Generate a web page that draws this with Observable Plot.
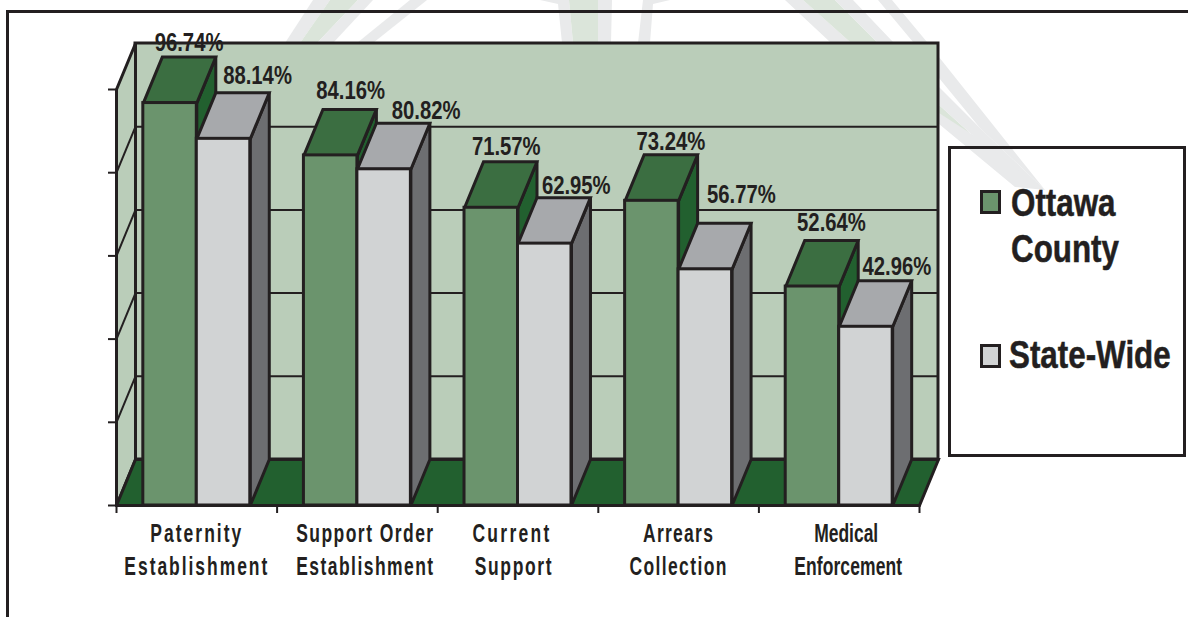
<!DOCTYPE html>
<html>
<head>
<meta charset="utf-8">
<style>
  html, body { margin: 0; padding: 0; background: #fff; }
  #page { position: relative; width: 1188px; height: 617px; overflow: hidden; font-family: "Liberation Sans", sans-serif; color: #231f20; }
  #rays, #chart { position: absolute; left: 0; top: 0; }
  #chart svg { display: block; background: transparent; overflow: visible; }
  .frame { position: absolute; background: #231f20; }
  #legend { position: absolute; left: 948px; top: 146px; width: 232px; height: 305px; border: 3px solid #231f20; }
  .entry { position: absolute; font-weight: 700; font-size: 38px; line-height: 46px; white-space: nowrap; transform: scaleX(0.825); transform-origin: left center; -webkit-text-stroke: 0.5px #231f20; }
  .swatch { position: absolute; width: 15px; height: 18px; border: 3px solid #231f20; }
</style>
<script src="https://cdn.jsdelivr.net/npm/d3@7"></script>
<script src="https://cdn.jsdelivr.net/npm/@observablehq/plot@0.6"></script>
</head>
<body>
<div id="page">
  <svg id="rays" width="1188" height="617"></svg>
  <div class="frame" style="left:6px;top:10px;width:1182px;height:3px"></div>
  <div class="frame" style="left:6px;top:10px;width:3px;height:607px"></div>
  <div id="chart"></div>
  <div id="legend">
    <div class="swatch" style="left:29px;top:41px;background:#6b946d"></div>
    <div class="entry" style="left:60px;top:31px">Ottawa</div>
    <div class="entry" style="left:60px;top:77px">County</div>
    <div class="swatch" style="left:29px;top:195px;background:#d1d3d4"></div>
    <div class="entry" style="left:58px;top:183px">State-Wide</div>
  </div>
</div>
<script>
// Programme performance by category, percent
const categoryFirstLines = ["Paternity", "Support Order", "Current", "Arrears", "Medical"];
const categorySecondLines = ["Establishment", "Establishment", "Support", "Collection", "Enforcement"];
const ottawaCounty = [96.74, 84.16, 71.57, 73.24, 52.64];
const stateWide = [88.14, 80.82, 62.95, 56.77, 42.96];
const gridValues = [0, 20, 40, 60, 80, 100];

// Scale factors and box extrusion
const pxPerSlot = 160.6;
const pxPerPercent = 4.16;
const depthX = 19 / pxPerSlot;
const depthY = 46 / pxPerPercent;
const barWidth = 0.333;

const ink = "#231f20";
const wallFill = "#bacdb9";
const floorFill = "#22602f";
const palettes = {
  county: {front: "#6b946d", top: "#3b6e41", side: "#22602f"},
  state: {front: "#d1d3d4", top: "#a7a9ac", side: "#6d6e71"}
};

// Value label nudges in pixels [right, up], clearing neighbouring faces
const countyLabelShift = [[0, 4.5], [1, 9], [-4, 5], [0, 3], [0, 8]];
const stateLabelShift = [[15, 7], [23, 3], [12.5, 2], [17, 19], [12, 4]];

// Category label centring and set widths, in pixels
const firstLineShift = [0, 8, -6, 0, 7];
const secondLineShift = [0, 8, -4, 0, 9];
const firstLineWidth = [91, 137, 77, 70, 64];
const secondLineWidth = [143, 137, 77, 97, 108];

// Decorative rays behind the plot
const rayGrey = "#e9eaeb";
const rayGreen = "#dbe5da";
const rays = [
  [rayGrey, "313,0 330,0 300,43 285,43"],
  [rayGreen, "330,0 358,0 317,43 300,43"],
  [rayGrey, "358,0 373,0 333,43 317,43"],
  [rayGrey, "410,0 427,0 373,43 357,43"],
  [rayGrey, "540,0 569,0 573,43 562,43 558,4"],
  [rayGreen, "569,0 598,0 598,43 573,43"],
  [rayGrey, "598,0 612,0 611,43 598,43"],
  [rayGrey, "643,0 670,0 653,4 650,43 638,43"],
  [rayGrey, "785,0 803,0 850,42 970,133 1000,150 1045,190 1015,187 939,124 830,42"],
  [rayGreen, "803,0 835,0 877,42 939,105 970,133 939,113 850,42"],
  [rayGrey, "835,0 853,0 893,42 939,87 980,128 1045,190 970,133 939,105 877,42"],
  [rayGrey, "878,0 892,0 927,42 1045,190 980,128 939,78 913,42"]
];
d3.select("#rays").selectAll("polygon").data(rays).join("polygon")
  .attr("fill", d => d[0]).attr("points", d => d[1]);

const strokeStyle = {stroke: ink, strokeWidth: 3, strokeLinejoin: "miter", strokeMiterlimit: 4};

function face(points, fill) {
  return Plot.line(points, {x: "x", y: "y", fill, ...strokeStyle});
}

function leftEdge(series, i) { return i + 0.5 - (series === "county" ? barWidth : 0); }

// Side and top faces, then the front, for one series
function barMarks(series, values) {
  const colors = palettes[series];
  return values.flatMap((v, i) => {
    const x0 = leftEdge(series, i);
    const x1 = x0 + barWidth;
    return [
      face([
        {x: x1, y: 0}, {x: x1 + depthX, y: depthY},
        {x: x1 + depthX, y: v + depthY}, {x: x1, y: v}, {x: x1, y: 0}
      ], colors.side),
      face([
        {x: x0, y: v}, {x: x0 + depthX, y: v + depthY},
        {x: x1 + depthX, y: v + depthY}, {x: x1, y: v}, {x: x0, y: v}
      ], colors.top),
      Plot.rect([v], {x1: x0, x2: x1, y1: 0, y2: d => d, fill: colors.front, ...strokeStyle})
    ];
  });
}

function labelRow(series, v, i, shift) {
  return {
    x: leftEdge(series, i) + barWidth / 2 + depthX + shift[0] / pxPerSlot,
    y: v + depthY + shift[1] / pxPerPercent,
    text: v.toFixed(2) + "%"
  };
}
const labelRows = [
  ...ottawaCounty.map((v, i) => labelRow("county", v, i, countyLabelShift[i])),
  ...stateWide.map((v, i) => labelRow("state", v, i, stateLabelShift[i]))
];

const textStyle = {
  lineAnchor: "middle", fontFamily: "Liberation Sans", fontWeight: 700, fill: ink
};

const plot = Plot.plot({
  width: 1188,
  height: 617,
  marginLeft: 116,
  marginRight: 269,
  marginTop: 89,
  marginBottom: 112,
  style: {background: "transparent", overflow: "visible"},
  x: {domain: [0, 5], axis: null},
  y: {domain: [0, 100], axis: null},
  marks: [
    // Box: back wall, left wall, floor
    Plot.rect([0], {x1: depthX, x2: 5 + depthX, y1: depthY, y2: 100 + depthY, fill: wallFill, ...strokeStyle}),
    face([
      {x: 0, y: 0}, {x: depthX, y: depthY}, {x: depthX, y: 100 + depthY},
      {x: 0, y: 100}, {x: 0, y: 0}
    ], wallFill),
    Plot.ruleY(gridValues.slice(1, -1), {
      y: d => d + depthY, x1: depthX, x2: 5 + depthX, stroke: ink, strokeWidth: 2
    }),
    Plot.link(gridValues.slice(1, -1), {
      x1: 0, y1: d => d, x2: depthX, y2: d => d + depthY, stroke: ink, strokeWidth: 2
    }),
    face([
      {x: 0, y: 0}, {x: depthX, y: depthY}, {x: 5 + depthX, y: depthY},
      {x: 5, y: 0}, {x: 0, y: 0}
    ], floorFill),
    // Bars
    ...barMarks("county", ottawaCounty),
    ...barMarks("state", stateWide),
    // Axes with bare tick marks
    Plot.ruleY([0], {x1: 0, x2: 5, stroke: ink, strokeWidth: 3}),
    Plot.axisY(gridValues, {anchor: "left", tickSize: 8, tickFormat: () => "", label: null, stroke: ink, strokeWidth: 2}),
    Plot.axisX([0, 1, 2, 3, 4, 5], {anchor: "bottom", tickSize: 8, tickFormat: () => "", label: null, stroke: ink, strokeWidth: 2}),
    // Value labels
    Plot.text(labelRows, {
      x: "x", y: "y", text: "text", dy: -10, fontSize: 26, ...textStyle
    }),
    // Category labels, one mark per line
    Plot.text(categoryFirstLines, {
      x: (d, i) => i + 0.5 + firstLineShift[i] / pxPerSlot, y: 0, text: d => d, dy: 28.5, fontSize: 25, ...textStyle
    }),
    Plot.text(categorySecondLines, {
      x: (d, i) => i + 0.5 + secondLineShift[i] / pxPerSlot, y: 0, text: d => d, dy: 61, fontSize: 25, ...textStyle
    })
  ]
});
document.getElementById("chart").appendChild(plot);

// The installed sans has no narrow cut: condense glyphs, then space each line out to its width
function condense(group, scale, widths) {
  group.querySelectorAll("text").forEach((el, i) => {
    const natural = el.getComputedTextLength();
    const transform = el.getAttribute("transform") || "";
    el.setAttribute("transform", `${transform} scale(${scale},1)`);
    if (widths) {
      const count = el.textContent.length;
      el.style.letterSpacing = `${(widths[i] / scale - natural) / (count - 1)}px`;
    }
  });
}
const [valueGroup, firstGroup, secondGroup] = plot.querySelectorAll('g[aria-label="text"]');
condense(valueGroup, 0.78);
condense(firstGroup, 0.7, firstLineWidth);
condense(secondGroup, 0.7, secondLineWidth);
</script>
</body>
</html>
